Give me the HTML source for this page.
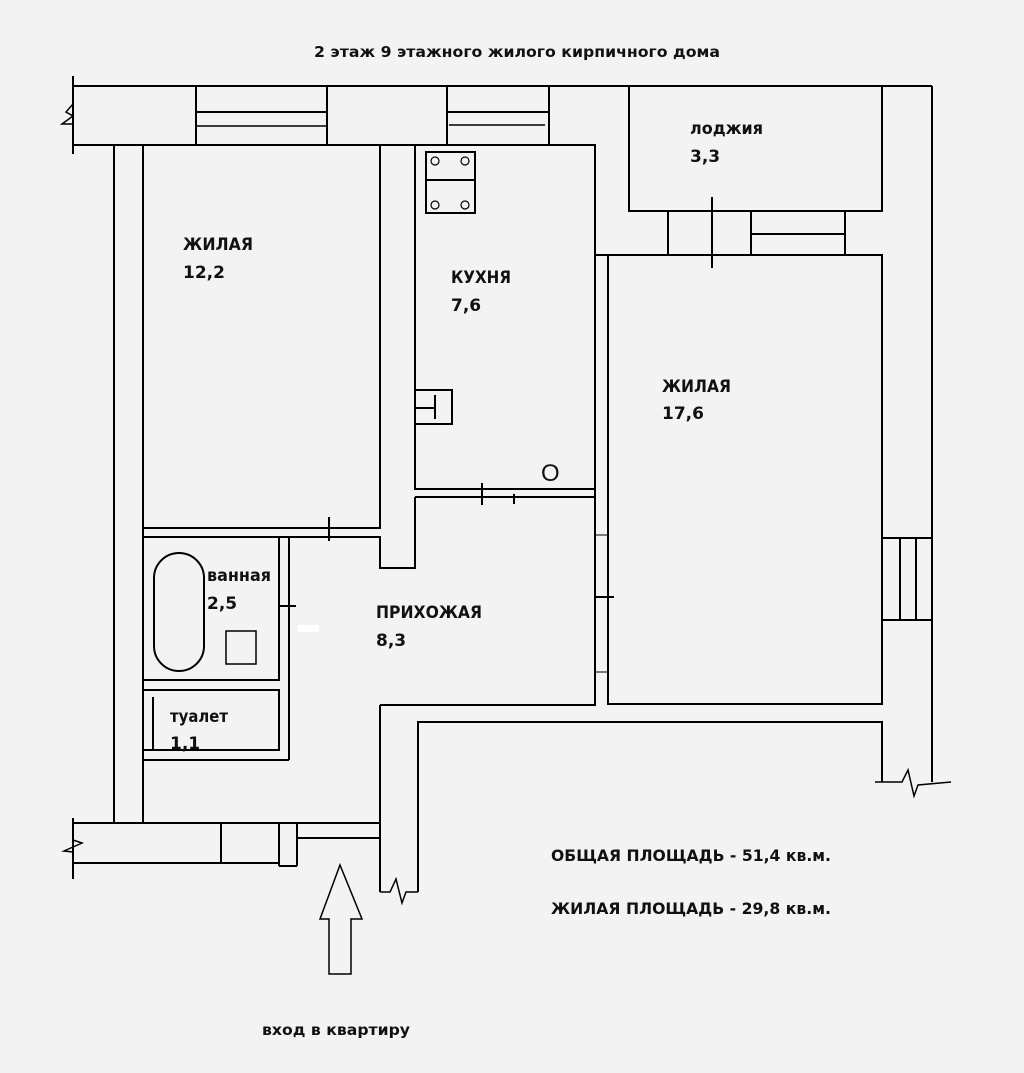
<!DOCTYPE html>
<html><head><meta charset="utf-8"><style>
html,body{margin:0;padding:0;background:#f3f3f3}
svg{display:block}
text{font-family:"DejaVu Sans","Liberation Sans",sans-serif;font-weight:bold;fill:#111}
</style></head><body>
<svg width="1024" height="1073" viewBox="0 0 1024 1073" xmlns="http://www.w3.org/2000/svg">
<rect width="1024" height="1073" fill="#f3f3f3"/>
<g stroke="#000" stroke-width="2" fill="none">
<line x1="72" y1="86" x2="932" y2="86"/>
<line x1="72" y1="145" x2="596" y2="145"/>
<line x1="73" y1="76" x2="73" y2="154"/>
<polyline points="73,104 66,112 73,116 62,124 73,124" stroke-width="1.5"/>
<rect x="196" y="86" width="131" height="59"/>
<line x1="196" y1="112" x2="327" y2="112"/><line x1="196" y1="126" x2="327" y2="126" stroke-width="1.5"/>
<rect x="447" y="86" width="102" height="59"/>
<line x1="447" y1="112" x2="549" y2="112"/><line x1="449" y1="125" x2="545" y2="125" stroke-width="1.5"/>
<line x1="114" y1="145" x2="114" y2="823"/>
<line x1="143" y1="145" x2="143" y2="823"/>
<rect x="143" y="145" width="237" height="383"/>
<line x1="329" y1="517" x2="329" y2="541"/>
<rect x="415" y="145" width="180" height="344"/>
<rect x="426" y="152" width="49" height="61"/>
<line x1="426" y1="180" x2="475" y2="180"/>
<circle cx="435" cy="161" r="4" stroke-width="1.2"/><circle cx="465" cy="161" r="4" stroke-width="1.2"/>
<circle cx="435" cy="205" r="4" stroke-width="1.2"/><circle cx="465" cy="205" r="4" stroke-width="1.2"/>
<rect x="415" y="390" width="37" height="34"/>
<line x1="435" y1="395" x2="435" y2="419"/><line x1="415" y1="408" x2="435" y2="408"/>
<line x1="415" y1="497" x2="595" y2="497"/>
<line x1="482" y1="483" x2="482" y2="505"/>
<line x1="514" y1="494" x2="514" y2="504"/>
<polyline points="143,537 380,537 380,568 415,568 415,497"/>
<rect x="143" y="537" width="136" height="143"/>
<line x1="289" y1="537" x2="289" y2="760"/>
<line x1="279" y1="606" x2="296" y2="606"/>
<rect x="154" y="553" width="50" height="118" rx="25" ry="25"/>
<rect x="226" y="631" width="30" height="33" stroke-width="1.5"/>
<rect x="143" y="690" width="136" height="60"/>
<polyline points="153,697 153,750 279,750"/>
<line x1="143" y1="760" x2="289" y2="760"/>
<line x1="380" y1="705" x2="380" y2="823"/>
<line x1="380" y1="705" x2="596" y2="705"/>
<polyline points="418,892 418,722 882,722 882,782"/>
<line x1="595" y1="145" x2="595" y2="705"/>
<rect x="608" y="255" width="274" height="449"/>
<line x1="595" y1="255" x2="668" y2="255"/>
<line x1="595" y1="597" x2="614" y2="597"/>
<line x1="595" y1="535" x2="608" y2="535" stroke-width="1"/>
<line x1="595" y1="672" x2="608" y2="672" stroke-width="1"/>
<rect x="629" y="86" width="253" height="125"/>
<rect x="668" y="211" width="177" height="44"/>
<line x1="751" y1="211" x2="751" y2="255"/>
<line x1="751" y1="234" x2="845" y2="234"/>
<line x1="712" y1="197" x2="712" y2="268"/>
<line x1="932" y1="86" x2="932" y2="782"/>
<rect x="882" y="538" width="50" height="82"/>
<line x1="900" y1="538" x2="900" y2="620"/><line x1="916" y1="538" x2="916" y2="620"/>
<polyline points="875,782 902,782 908,770 914,796 918,785 951,782" stroke-width="1.5"/>
<line x1="73" y1="823" x2="380" y2="823"/>
<line x1="73" y1="863" x2="279" y2="863"/>
<line x1="73" y1="818" x2="73" y2="879"/>
<polyline points="73,840 82,843 64,851 73,852" stroke-width="1.5"/>
<line x1="221" y1="823" x2="221" y2="863"/>
<line x1="279" y1="823" x2="279" y2="866"/>
<line x1="297" y1="823" x2="297" y2="866"/>
<line x1="279" y1="866" x2="297" y2="866"/>
<line x1="297" y1="838" x2="380" y2="838"/>
<line x1="380" y1="823" x2="380" y2="892"/>
<polyline points="380,892 390,892 396,879 402,903 406,892 418,892" stroke-width="1.5"/>
<polygon points="340,865 362,919 351,919 351,974 329,974 329,919 320,919" stroke-width="1.5"/>
</g>
<rect x="298" y="625" width="21" height="7" fill="#fff"/>
<text x="541" y="481" font-size="24" style="font-weight:normal;font-family:'Liberation Sans',sans-serif">O</text>
<text x="517" y="57" font-size="15" text-anchor="middle" textLength="406" lengthAdjust="spacingAndGlyphs">2 этаж 9 этажного жилого кирпичного дома</text>
<text x="183" y="250" font-size="17" textLength="70" lengthAdjust="spacingAndGlyphs">ЖИЛАЯ</text>
<text x="183" y="278" font-size="17">12,2</text>
<text x="451" y="283" font-size="17" textLength="60" lengthAdjust="spacingAndGlyphs">КУХНЯ</text>
<text x="451" y="311" font-size="17">7,6</text>
<text x="690" y="134" font-size="17" textLength="73" lengthAdjust="spacingAndGlyphs">лоджия</text>
<text x="690" y="162" font-size="17">3,3</text>
<text x="662" y="392" font-size="17" textLength="69" lengthAdjust="spacingAndGlyphs">ЖИЛАЯ</text>
<text x="662" y="419" font-size="17">17,6</text>
<text x="376" y="618" font-size="17" textLength="106" lengthAdjust="spacingAndGlyphs">ПРИХОЖАЯ</text>
<text x="376" y="646" font-size="17">8,3</text>
<text x="207" y="581" font-size="17" textLength="64" lengthAdjust="spacingAndGlyphs">ванная</text>
<text x="207" y="609" font-size="17">2,5</text>
<text x="170" y="722" font-size="17" textLength="58" lengthAdjust="spacingAndGlyphs">туалет</text>
<text x="170" y="749" font-size="17">1,1</text>
<text x="551" y="861" font-size="16" textLength="280" lengthAdjust="spacingAndGlyphs">ОБЩАЯ ПЛОЩАДЬ - 51,4 кв.м.</text>
<text x="551" y="914" font-size="16" textLength="280" lengthAdjust="spacingAndGlyphs">ЖИЛАЯ ПЛОЩАДЬ - 29,8 кв.м.</text>
<text x="262" y="1035" font-size="15" textLength="148" lengthAdjust="spacingAndGlyphs">вход в квартиру</text>
</svg>
</body></html>
